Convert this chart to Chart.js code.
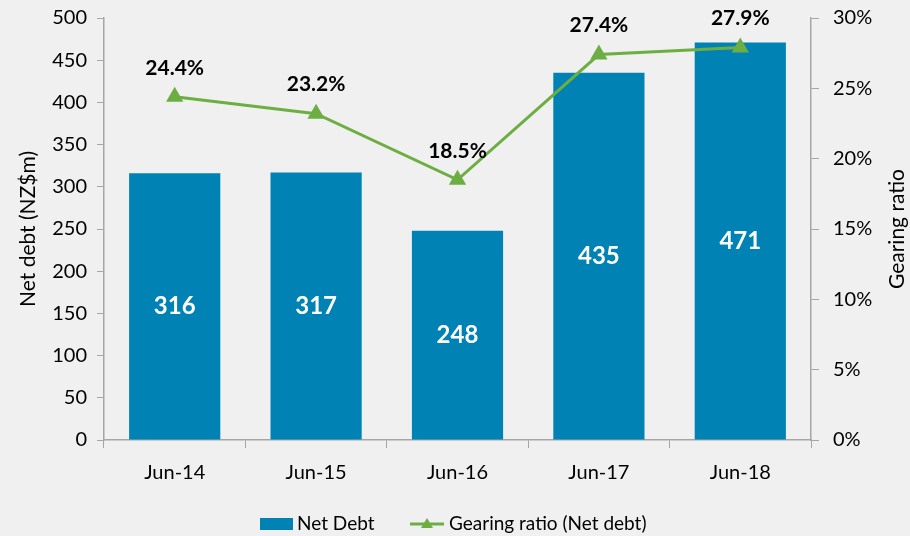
<!DOCTYPE html>
<html><head><meta charset="utf-8">
<script src="https://cdn.jsdelivr.net/npm/chart.js@4/dist/chart.umd.min.js"></script>
<style>html,body{margin:0;padding:0;background:#f0f0f0;}#wrap{width:910px;height:536px;}</style>
</head><body><div id="wrap"><canvas id="c" width="910" height="536"></canvas></div>
<script>
const categories = ['Jun-14','Jun-15','Jun-16','Jun-17','Jun-18'];
const netDebt = [316, 317, 248, 435, 471];
const gearing = [24.4, 23.2, 18.5, 27.4, 27.9];
const leftTicks = [0,50,100,150,200,250,300,350,400,450,500];
const rightTicks = [0,5,10,15,20,25,30];

const FONT = 'Lato, "Open Sans", sans-serif';
const BAR = '#0083B4';
const LINE = '#6DAE42';
const AXIS = '#A6A6A6';

const labelPlugin = {
  id: 'labels',
  afterDatasetsDraw(chart) {
    const ctx = chart.ctx;
    ctx.save();
    const bars = chart.getDatasetMeta(1).data;
    ctx.fillStyle = '#ffffff';
    ctx.font = 'bold 24px ' + FONT;
    ctx.textAlign = 'center'; ctx.textBaseline = 'middle';
    bars.forEach((b, i) => {
      ctx.fillText(String(netDebt[i]), b.x, (b.y + b.base) / 2);
    });
    const pts = chart.getDatasetMeta(0).data;
    ctx.fillStyle = '#000000';
    ctx.font = 'bold 21px ' + FONT;
    pts.forEach((p, i) => {
      ctx.fillText(gearing[i].toFixed(1) + '%', p.x, p.y - 29);
    });
    // axis titles
    ctx.font = '21px ' + FONT;
    const cy = (chart.chartArea.top + chart.chartArea.bottom) / 2;
    ctx.save(); ctx.translate(28, cy); ctx.rotate(-Math.PI / 2); ctx.fillText('Net debt (NZ$m)', 0, 0); ctx.restore();
    ctx.save(); ctx.translate(897, cy); ctx.rotate(-Math.PI / 2); ctx.fillText('Gearing ratio', 0, 0); ctx.restore();
    // legend
    const ly = 524;
    ctx.fillStyle = BAR;
    ctx.fillRect(260, ly - 6, 33, 12);
    ctx.fillStyle = '#000';
    ctx.font = '19px ' + FONT;
    ctx.textAlign = 'left';
    ctx.fillText('Net Debt', 297, ly);
    ctx.strokeStyle = LINE; ctx.lineWidth = 3;
    ctx.beginPath(); ctx.moveTo(410, ly); ctx.lineTo(444, ly); ctx.stroke();
    ctx.fillStyle = LINE;
    ctx.beginPath(); ctx.moveTo(427, ly - 6); ctx.lineTo(433, ly + 4); ctx.lineTo(421, ly + 4); ctx.closePath(); ctx.fill();
    ctx.fillStyle = '#000';
    ctx.fillText('Gearing ratio (Net debt)', 449, ly);
    ctx.restore();
  }
};

function fixY(s, w) { s.width = w; s.paddingTop = 0; s.paddingBottom = 0; }

new Chart(document.getElementById('c'), {
  data: {
    labels: categories,
    datasets: [
      { type: 'line', label: 'Gearing ratio (Net debt)', data: gearing, yAxisID: 'y1',
        borderColor: LINE, backgroundColor: LINE, borderWidth: 3,
        pointStyle: 'triangle', pointRadius: 7, pointHoverRadius: 7, tension: 0, order: 0 },
      { type: 'bar', label: 'Net Debt', data: netDebt, yAxisID: 'y',
        backgroundColor: BAR, barPercentage: 0.645, categoryPercentage: 1, order: 1 }
    ]
  },
  options: {
    responsive: false, animation: false,
    layout: { padding: { top: 18, bottom: 0, left: 0, right: 0 } },
    plugins: { legend: { display: false }, tooltip: { enabled: false } },
    scales: {
      x: {
        grid: { drawOnChartArea: false, drawTicks: true, tickLength: 8, color: AXIS, offset: true },
        border: { color: AXIS, width: 1.5 },
        ticks: { color: '#000', font: { family: FONT, size: 20 }, padding: 13 },
        afterFit(s) { s.height = 96; s.paddingLeft = 0; s.paddingRight = 0; }
      },
      y: {
        position: 'left', min: 0, max: 500,
        afterBuildTicks(s) { s.ticks = leftTicks.map(v => ({ value: v })); },
        grid: { drawOnChartArea: false, tickLength: 7, color: AXIS },
        border: { color: AXIS, width: 1.5 },
        ticks: { color: '#000', font: { family: FONT, size: 20 }, padding: 10 },
        afterFit(s) { fixY(s, 104); }
      },
      y1: {
        position: 'right', min: 0, max: 30,
        afterBuildTicks(s) { s.ticks = rightTicks.map(v => ({ value: v })); },
        grid: { drawOnChartArea: false, tickLength: 8, color: AXIS },
        border: { color: AXIS, width: 1.5 },
        ticks: { color: '#000', font: { family: FONT, size: 20 }, padding: 14, callback: v => v + '%' },
        afterFit(s) { fixY(s, 99); }
      }
    }
  },
  plugins: [labelPlugin]
});
</script></body></html>
